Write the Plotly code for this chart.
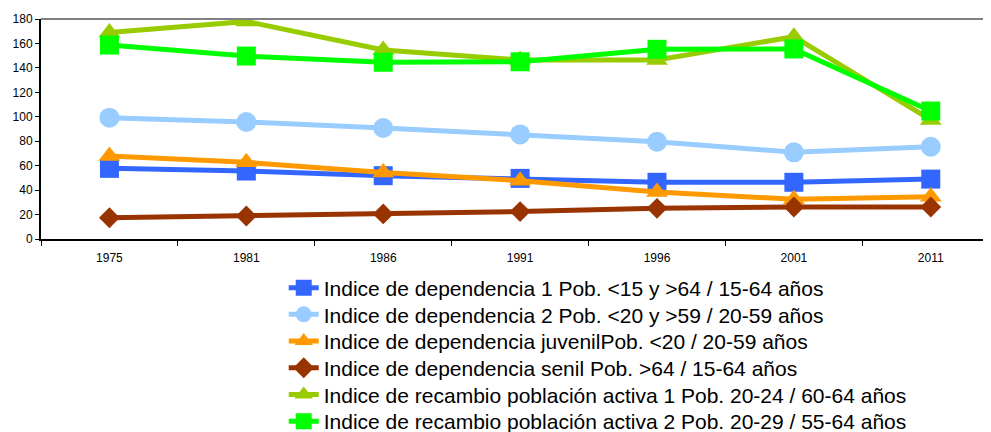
import plotly.graph_objects as go

years = ["1975", "1981", "1986", "1991", "1996", "2001", "2011"]

names = [
    "Indice de dependencia 1 Pob. <15 y >64 / 15-64 años",
    "Indice de dependencia 2 Pob. <20 y >59 / 20-59 años",
    "Indice de dependencia juvenilPob. <20 / 20-59 años",
    "Indice de dependencia senil Pob. >64 / 15-64 años",
    "Indice de recambio población activa 1 Pob. 20-24 / 60-64 años",
    "Indice de recambio población activa 2 Pob. 20-29 / 55-64 años",
]

dep1 = [57.8, 55.6, 51.8, 49.6, 46.4, 46.4, 49.0]
dep2 = [99.3, 95.7, 90.8, 85.6, 79.6, 70.9, 75.5]
juvenil = [67.9, 62.7, 54.5, 47.7, 38.5, 32.5, 34.6]
senil = [17.4, 18.8, 20.5, 22.4, 25.1, 26.2, 26.2]
recambio1 = [169.0, 178.0, 154.6, 146.5, 146.5, 165.5, 97.4]
recambio2 = [158.7, 149.7, 144.6, 145.0, 155.2, 155.5, 104.7]

series = [dep1, dep2, juvenil, senil, recambio1, recambio2]
colors = ["#3366FF", "#99CCFF", "#FF9900", "#993300", "#99CC00", "#00FF00"]
symbols = ["square", "circle", "triangle-up", "diamond", "triangle-up", "square"]
sizes = [19, 20, 19, 16, 19, 19]

fig = go.Figure()
legend_layout = {}
plot_h = 220.0
row_gap = 26.7
for i, (nm, vals, c, s, sz) in enumerate(zip(names, series, colors, symbols, sizes)):
    lg = "legend" if i == 0 else f"legend{i + 1}"
    fig.add_trace(go.Scatter(
        x=years, y=vals, name=nm, mode="lines+markers",
        line=dict(color=c, width=5),
        marker=dict(color=c, symbol=s, size=sz, line=dict(width=0)),
        legend=lg,
    ))
    # one legend per entry so that row spacing can be matched
    legend_layout[lg] = dict(
        x=0.2555, y=-(49 + i * row_gap) / plot_h, xanchor="left", yanchor="middle",
        font=dict(size=21, color="black"),
        bgcolor="rgba(0,0,0,0)", borderwidth=0,
    )

# the page body adds an 8px offset, so the figure is sized and margined to compensate
fig.update_layout(
    width=983, height=424,
    margin=dict(l=33, r=0, t=11, b=193, autoexpand=False),
    paper_bgcolor="white", plot_bgcolor="white",
    font=dict(family="Liberation Sans, Arial, sans-serif", color="black", size=12),
    showlegend=True,
    **legend_layout,
)

fig.update_xaxes(
    type="category", range=[-0.5, 6.44], automargin=False,
    showline=True, linecolor="black", linewidth=2,
    ticks="outside", tickson="boundaries", ticklen=5, tickwidth=1, tickcolor="black",
    showgrid=False, zeroline=False,
    tickfont=dict(size=12), ticklabelstandoff=7,
)
fig.update_yaxes(
    range=[0, 180], dtick=20, automargin=False,
    showline=True, linecolor="black", linewidth=2,
    ticks="outside", ticklen=4, tickwidth=1, tickcolor="black",
    showgrid=False, zeroline=False,
    tickfont=dict(size=12),
)
# gray top border of plot area
fig.add_shape(type="line", xref="paper", yref="paper", x0=0, x1=1, y0=1, y1=1,
              line=dict(color="#808080", width=2))

fig.write_html("out.html")
